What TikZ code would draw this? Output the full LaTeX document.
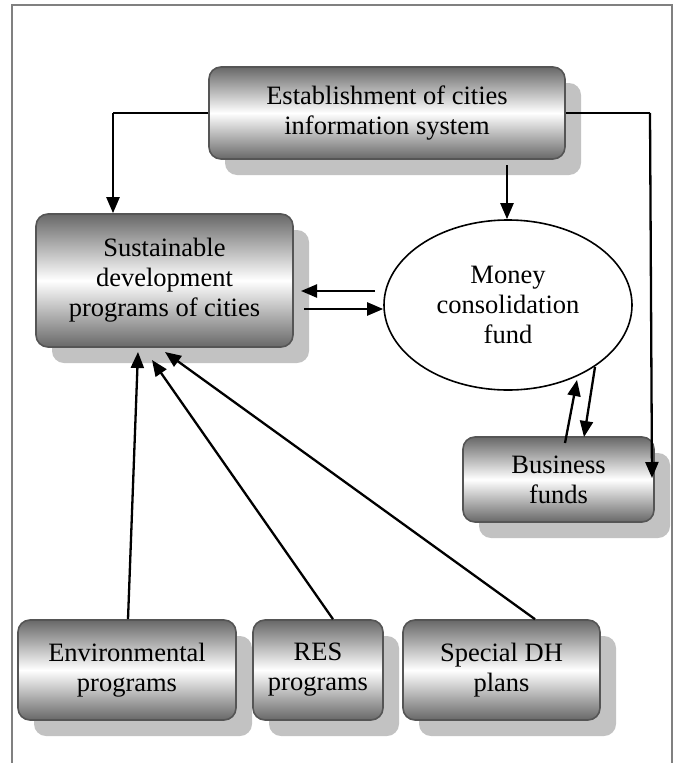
\documentclass[tikz,border=0pt]{standalone}
\usepackage{fontspec}
\setmainfont{Liberation Serif}
\usetikzlibrary{arrows.meta,shadows,shapes.geometric}
\definecolor{boxdark}{RGB}{104,104,104}
\definecolor{boxline}{RGB}{85,85,85}
\definecolor{shadowgray}{RGB}{194,194,194}
\definecolor{framegray}{RGB}{128,128,128}
\tikzset{
  tube/.style={draw=boxline, line width=1.6pt, rounded corners=12pt,
    top color=boxdark, bottom color=boxdark, middle color=white,
    general shadow={fill=shadowgray, shadow xshift=16pt, shadow yshift=-16pt},
    align=center, inner sep=0pt, font=\fontsize{26.5}{30}\selectfont},
  fundell/.style={draw=black, line width=1.6pt, ellipse, fill=white,
    align=center, inner sep=0pt, font=\fontsize{26.5}{30}\selectfont},
  arr/.style={line width=2.3pt, -{Triangle[length=16pt,width=13pt]}},
  plainline/.style={line width=1.8pt}
}
\begin{document}
\begin{tikzpicture}[x=1pt,y=1pt]
\useasboundingbox (0,0) rectangle (673,-763);
% frame
\draw[framegray, line width=2pt] (12,-763) -- (12,-5) -- (672,-5) -- (672,-763);

% nodes
\node[tube, minimum width=356pt, minimum height=92pt] (est) at (387,-113) {Establishment of cities\\information system};
\node[tube, minimum width=257pt, minimum height=133pt] (sd) at (164.5,-280.5) {Sustainable\\development\\programs of cities};
\node[fundell, minimum width=248pt, minimum height=170pt] (ell) at (508,-305) {Money\\consolidation\\fund};
\node[tube, minimum width=191pt, minimum height=85pt] (bf) at (558.5,-479.5) {Business\\funds};
\node[tube, minimum width=218pt, minimum height=100pt] (env) at (127,-670) {Environmental\\programs};
\node[tube, minimum width=130pt, minimum height=100pt] (res) at (318,-670) {RES\\programs};
\node[tube, minimum width=197pt, minimum height=100pt] (sdh) at (501.5,-670) {Special DH\\plans};

% coordinates for bends and free ends
\coordinate (c1) at (113,-113);
\coordinate (c2) at (650,-113);
\coordinate (c3) at (652,-478);
\coordinate (eTop) at (507,-165);
\coordinate (sdIn) at (301,-291);
\coordinate (ellOut) at (375,-291);
\coordinate (sdOut) at (304,-309);
\coordinate (bfUpS) at (565,-443);
\coordinate (bfUpE) at (577,-380);
\coordinate (bfDnS) at (595,-367);
\coordinate (bfDnE) at (584,-437);
\coordinate (envT) at (138,-352);
\coordinate (resT) at (152,-360);
\coordinate (sdhT) at (165,-352);

% connectors
\draw[plainline] (est.west) -- (c1);
\draw[arr] (c1) -- (c1 |- sd.north);
\draw[plainline] (est.east) -- (c2);
\draw[arr] (c2) -- (c3);
\draw[arr] (eTop) -- (eTop |- ell.north);
\draw[arr] (ellOut) -- (sdIn);
\draw[arr] (sdOut) -- (sdOut -| ell.west);
\draw[arr] (bfUpS) -- (bfUpE);
\draw[arr] (bfDnS) -- (bfDnE);
\draw[arr] (env.north -| 128,0) -- (envT);
\draw[arr] (res.north -| 333,0) -- (resT);
\draw[arr] (sdh.north -| 535,0) -- (sdhT);
\end{tikzpicture}
\end{document}
